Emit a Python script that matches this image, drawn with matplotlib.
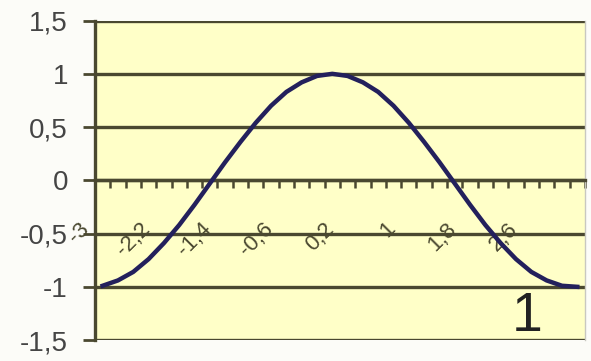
import matplotlib
matplotlib.use('Agg')
import matplotlib.pyplot as plt
import numpy as np

# series (category axis, step 0.2)
x_vals = [-3.0, -2.8, -2.6, -2.4, -2.2, -2.0, -1.8, -1.6, -1.4, -1.2, -1.0,
          -0.8, -0.6, -0.4, -0.2, 0.0, 0.2, 0.4, 0.6, 0.8, 1.0,
          1.2, 1.4, 1.6, 1.8, 2.0, 2.2, 2.4, 2.6, 2.8, 3.0, 3.2]
y_vals = [-0.99, -0.94, -0.86, -0.74, -0.59, -0.42, -0.23, -0.03, 0.17, 0.36, 0.54,
          0.70, 0.83, 0.92, 0.98, 1.00, 0.98, 0.92, 0.83, 0.70, 0.54,
          0.36, 0.17, -0.03, -0.23, -0.42, -0.59, -0.74, -0.86, -0.94, -0.99, -1.00]

x_label_pos = [-3.0, -2.2, -1.4, -0.6, 0.2, 1.0, 1.8, 2.6]
x_labels = ['-3', '-2,2', '-1,4', '-0,6', '0,2', '1', '1,8', '2,6']
y_ticks = [-1.5, -1.0, -0.5, 0.0, 0.5, 1.0, 1.5]
y_labels = ['-1,5', '-1', '-0,5', '0', '0,5', '1', '1,5']
corner_text = '1'

plt.rcParams['font.family'] = ['Liberation Sans', 'DejaVu Sans']

olive = '#4a4830'
fig = plt.figure(figsize=(5.91, 3.61), dpi=100)
fig.patch.set_facecolor('#fcfcf8')
ax = fig.add_axes([0.1607, 0.058, 0.829, 0.885])
ax.set_facecolor('#ffffc8')

xs = np.array(x_vals)
step = xs[1] - xs[0]
ax.set_xlim(xs[0] - step / 2, xs[-1] + step / 2)
ax.set_ylim(-1.5, 1.5)

# horizontal gridlines
ax.set_yticks(y_ticks)
ax.set_yticklabels(y_labels, fontsize=20, color='#454545')
ax.yaxis.grid(True, color=olive, lw=2.4, zorder=1)
ax.tick_params(axis='y', direction='out', length=8.5, width=2, color=olive, pad=11)

# category boundaries as ticks on the x axis at y=0
bounds = np.append(xs - step / 2, xs[-1] + step / 2)
ax.set_xticks(bounds)
ax.set_xticklabels([])
ax.tick_params(axis='x', direction='out', length=6, width=1.8, color=olive)
ax.spines['bottom'].set_position(('data', 0))
ax.spines['bottom'].set_color(olive)
ax.spines['bottom'].set_linewidth(2.4)
ax.spines['left'].set_color(olive)
ax.spines['left'].set_linewidth(2.4)
ax.spines['top'].set_visible(False)
ax.spines['right'].set_color('#c8c8c0')
ax.spines['right'].set_linewidth(1)

ax.plot(x_vals, y_vals, color='#23205c', lw=3.2, zorder=3, clip_on=False)

for pos, lbl in zip(x_label_pos, x_labels):
    ax.annotate(lbl, xy=(pos, 0), xytext=(-24, -38), textcoords='offset pixels',
                rotation=45, rotation_mode='anchor', ha='right', va='top',
                fontsize=16, color='#4a4830', zorder=2, annotation_clip=False)

ax.text(2.55, -1.28, corner_text, fontsize=40, color='#222222',
        ha='center', va='center', zorder=4)

fig.savefig('out.png', dpi=100, facecolor=fig.get_facecolor())
